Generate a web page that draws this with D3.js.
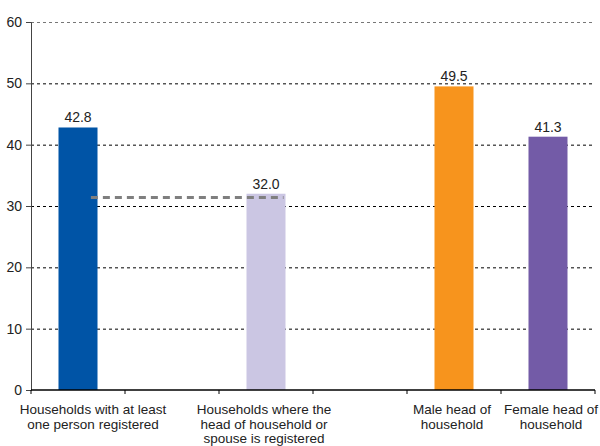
<!DOCTYPE html>
<html><head><meta charset="utf-8">
<script src="https://cdn.jsdelivr.net/npm/d3@7"></script>
<style>body{margin:0;background:#fff}svg{display:block;font-family:"Liberation Sans",Arial,sans-serif}</style>
</head><body><svg id="c" width="600" height="446"></svg>
<script>
const slots = ["s0","s1","s2","s3","s4","s5"];
const categories = ["s0","s2","s4","s5"];
const labels = [
  ["Households with at least","one person registered"],
  ["Households where the","head of household or","spouse is registered"],
  ["Male head of","household"],
  ["Female head of","household"]
];
const values = [42.8, 32.0, 49.5, 41.3];
const colors = ["#0054A6","#CBC6E3","#F7941D","#735BA7"];
const refValue = 31.4;
const yTicks = [0,10,20,30,40,50,60];

const svg = d3.select("#c");
const m = {l:31, r:5, t:22, b:56};
const W = 600, H = 446;
const x = d3.scaleBand().domain(slots).range([m.l, W - m.r]).padding(0);
const y = d3.scaleLinear().domain([0,60]).range([H - m.b, m.t]);
const step = x.step();
const bw = step * 0.415;
const cx = d => x(d) + step/2;

// gridlines
svg.append("g").selectAll("line").data(yTicks.filter(t=>t>0)).join("line")
  .attr("x1", m.l).attr("x2", W - m.r)
  .attr("y1", d=>y(d)+0.5).attr("y2", d=>y(d)+0.5)
  .attr("stroke", d => d===60 ? "#777" : "#000").attr("stroke-width",1)
  .attr("stroke-dasharray","3,3");

// bars
svg.append("g").selectAll("rect").data(values).join("rect")
  .attr("x", (d,i)=>cx(categories[i]) - bw/2)
  .attr("width", bw)
  .attr("y", d=>y(d))
  .attr("height", d=>y(0)-y(d))
  .attr("fill", (d,i)=>colors[i]);

// value labels
svg.append("g").selectAll("text").data(values).join("text")
  .attr("x", (d,i)=>cx(categories[i]))
  .attr("y", d=>y(d)-5)
  .attr("text-anchor","middle")
  .attr("font-size",14).attr("fill","#222")
  .text(d=>d.toFixed(1));

// reference dashed line
svg.append("line")
  .attr("x1", cx(categories[0]) + bw*0.33)
  .attr("x2", cx(categories[1]) + bw*0.45)
  .attr("y1", y(refValue)).attr("y2", y(refValue))
  .attr("stroke","#7f7f7f").attr("stroke-width",3)
  .attr("stroke-dasharray","7,5");

// y axis
const ya = svg.append("g").attr("transform",`translate(${m.l},0)`)
  .call(d3.axisLeft(y).tickValues(yTicks).tickSize(5).tickPadding(4));
ya.select(".domain").attr("stroke","#444");
ya.selectAll(".tick line").attr("stroke","#444");
ya.selectAll("text").attr("font-size",14).attr("fill","#222").attr("font-family","Liberation Sans, Arial, sans-serif");

// x axis
const xa = svg.append("g").attr("transform",`translate(0,${y(0)})`);
xa.append("line").attr("x1",m.l).attr("x2",W-m.r).attr("stroke","#000").attr("stroke-width",1.5);
xa.selectAll("line.t").data(slots.concat(["end"])).join("line").attr("class","t")
  .attr("x1",(d,i)=> i<slots.length ? x(d) : W-m.r).attr("x2",(d,i)=> i<slots.length ? x(d) : W-m.r)
  .attr("y1",0).attr("y2",4).attr("stroke","#000");

// category labels
const dxs = [15, -2, -2, 3];
const lg = svg.append("g");
labels.forEach((lines,i)=>{
  const t = lg.append("text")
    .attr("x", cx(categories[i]) + dxs[i])
    .attr("y", y(0) + 24)
    .attr("text-anchor","middle").attr("font-size",13.5).attr("fill","#222");
  lines.forEach((s,j)=>t.append("tspan").attr("x", cx(categories[i]) + dxs[i]).attr("dy", j===0?0:14.5).text(s));
});
</script></body></html>
